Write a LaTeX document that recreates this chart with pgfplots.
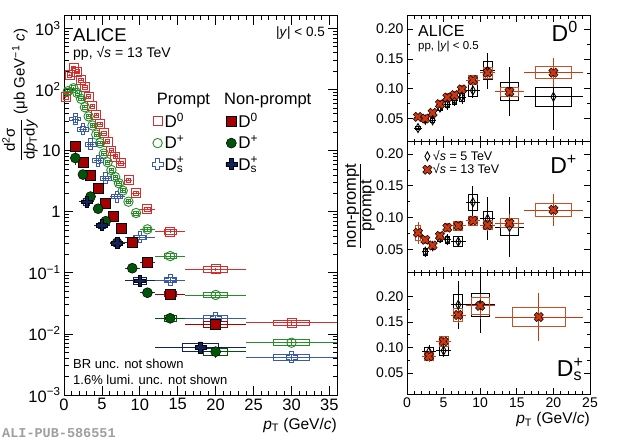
\documentclass[border=0pt]{standalone}
\usepackage{fontspec}
\setmainfont{Liberation Sans}
\setmonofont{Liberation Mono}
\usepackage{pgfplots}
\usepackage{pgfplotstable}
\pgfplotsset{compat=1.18}

\definecolor{pDz}{RGB}{215,45,45}
\definecolor{pDp}{RGB}{40,140,40}
\definecolor{pDs}{RGB}{60,90,170}
\definecolor{nDz}{RGB}{165,0,0}
\definecolor{nDp}{RGB}{0,85,10}
\definecolor{nDs}{RGB}{15,35,95}
\definecolor{tth}{RGB}{205,55,15}
\definecolor{tthb}{RGB}{200,80,40}

\newcommand{\Dz}{D\textsuperscript{0}}
\newcommand{\Dp}{D\textsuperscript{+}}
\newcommand{\Ds}{D\rlap{\textsuperscript{+}}\textsubscript{s}}
\newcommand{\pT}{\textit{p}\textsubscript{T}}
\newcommand{\sqs}{√\textit{s}}

\newcommand{\crosspath}[1]{%
 \pgfpathmoveto{\pgfpoint{-#1\pgfplotmarksize}{\pgfplotmarksize}}%
 \pgfpathlineto{\pgfpoint{#1\pgfplotmarksize}{\pgfplotmarksize}}%
 \pgfpathlineto{\pgfpoint{#1\pgfplotmarksize}{#1\pgfplotmarksize}}%
 \pgfpathlineto{\pgfpoint{\pgfplotmarksize}{#1\pgfplotmarksize}}%
 \pgfpathlineto{\pgfpoint{\pgfplotmarksize}{-#1\pgfplotmarksize}}%
 \pgfpathlineto{\pgfpoint{#1\pgfplotmarksize}{-#1\pgfplotmarksize}}%
 \pgfpathlineto{\pgfpoint{#1\pgfplotmarksize}{-\pgfplotmarksize}}%
 \pgfpathlineto{\pgfpoint{-#1\pgfplotmarksize}{-\pgfplotmarksize}}%
 \pgfpathlineto{\pgfpoint{-#1\pgfplotmarksize}{-#1\pgfplotmarksize}}%
 \pgfpathlineto{\pgfpoint{-\pgfplotmarksize}{-#1\pgfplotmarksize}}%
 \pgfpathlineto{\pgfpoint{-\pgfplotmarksize}{#1\pgfplotmarksize}}%
 \pgfpathlineto{\pgfpoint{-#1\pgfplotmarksize}{#1\pgfplotmarksize}}%
 \pgfpathclose}
\pgfdeclareplotmark{ocross}{\crosspath{0.33}\pgfusepathqstroke}
\pgfdeclareplotmark{fcross}{\crosspath{0.33}\pgfusepathqfillstroke}
\pgfdeclareplotmark{fx}{\pgftransformrotate{45}\crosspath{0.36}\pgfusepathqfillstroke}
\pgfdeclareplotmark{odiam}{%
 \pgfpathmoveto{\pgfpoint{0pt}{\pgfplotmarksize}}%
 \pgfpathlineto{\pgfpoint{0.55\pgfplotmarksize}{0pt}}%
 \pgfpathlineto{\pgfpoint{0pt}{-\pgfplotmarksize}}%
 \pgfpathlineto{\pgfpoint{-0.55\pgfplotmarksize}{0pt}}%
 \pgfpathclose\pgfusepathqstroke}
\pgfdeclareplotmark{nothing}{}

\pgfplotsset{
  rootax/.style={scale only axis, anchor=south west,
    axis line style={line width=1pt},
    tick style={black, line width=0.8pt}, tick align=inside,
    /pgf/number format/assume math mode=true},
  logbox/.style n args={3}{forget plot, scatter, only marks, mark=nothing,
    visualization depends on={\thisrow{bw} \as \bw},
    visualization depends on={\thisrow{sy} \as \sy},
    scatter/@pre marker code/.code={%
      \pgfmathsetmacro\hw{max(#2*\bw,2.2)}%
      \pgfmathsetmacro\hh{max(#3*log10(1+\sy),1.2)}%
      \draw[#1, line width=0.8pt] (-\hw pt,-\hh pt) rectangle (\hw pt,\hh pt);},
    scatter/@post marker code/.code={}},
  linbox/.style n args={3}{forget plot, scatter, only marks, mark=nothing,
    visualization depends on={\thisrow{bw} \as \bw},
    visualization depends on={\thisrow{sy} \as \sy},
    scatter/@pre marker code/.code={%
      \pgfmathsetmacro\hw{max(#2*\bw,2.2)}%
      \pgfmathsetmacro\hh{max(#3*\sy,1.2)}%
      \draw[#1, line width=0.8pt] (-\hw pt,-\hh pt) rectangle (\hw pt,\hh pt);},
    scatter/@post marker code/.code={}},
  errs/.style={forget plot, only marks,
    error bars/x dir=both, error bars/x explicit,
    error bars/y dir=both, error bars/y explicit,
    error bars/error mark=none,
    error bars/error bar style={line width=0.8pt}},
}

% ---------- left panel: cross sections ----------
\pgfplotstableread{
x y ex ey bw sy
0.25 76 0.25 4 0.1 0.12
0.75 173 0.25 6 0.1 0.10
1.25 222 0.25 7 0.1 0.09
1.75 196 0.25 6 0.1 0.08
2.25 143 0.25 4 0.1 0.08
2.75 109 0.25 3 0.1 0.08
3.25 76 0.25 2 0.1 0.08
3.75 53.7 0.25 1.5 0.1 0.08
4.25 38.3 0.25 1.1 0.1 0.08
4.75 27.2 0.25 0.8 0.1 0.08
5.25 19.2 0.25 0.6 0.1 0.08
5.75 14.0 0.25 0.45 0.1 0.08
6.25 9.96 0.25 0.35 0.1 0.08
6.75 7.94 0.25 0.3 0.1 0.08
7.5 6.2 0.5 0.2 0.2 0.08
8.5 3.30 0.5 0.12 0.2 0.08
9.5 2.0 0.5 0.08 0.2 0.08
11 1.11 1 0.05 0.4 0.08
14 0.47 2 0.025 0.8 0.09
20 0.114 4 0.008 1.6 0.12
30 0.0152 6 0.0015 2.4 0.11
}\pDzT
\pgfplotstableread{
x y ex ey bw sy
0.5 94 0.5 6 0.2 0.12
1.25 105 0.25 5 0.1 0.10
1.75 88 0.25 4 0.1 0.09
2.25 70.5 0.25 3 0.1 0.08
2.75 51.3 0.25 2 0.1 0.08
3.25 36.4 0.25 1.4 0.1 0.08
3.75 25.8 0.25 1.0 0.1 0.08
4.25 18.3 0.25 0.7 0.1 0.08
4.75 13.3 0.25 0.5 0.1 0.08
5.25 8.97 0.25 0.35 0.1 0.08
5.75 6.46 0.25 0.26 0.1 0.08
6.25 4.81 0.25 0.2 0.1 0.08
6.75 3.70 0.25 0.15 0.1 0.08
7.25 2.92 0.25 0.12 0.1 0.08
7.75 2.22 0.25 0.1 0.1 0.08
8.5 1.46 0.5 0.07 0.2 0.08
9.5 0.953 0.5 0.05 0.2 0.08
11 0.515 1 0.03 0.4 0.08
14 0.188 2 0.012 0.8 0.09
20 0.0434 4 0.004 1.6 0.10
30 0.00718 6 0.0009 2.4 0.12
}\pDpT
\pgfplotstableread{
x y ex ey bw sy
1.5 32.9 0.5 3 0.2 0.12
2.5 22.4 0.5 1.5 0.2 0.10
3.5 12.7 0.5 0.8 0.2 0.09
4.5 6.84 0.5 0.4 0.2 0.09
5.5 3.52 0.5 0.22 0.2 0.09
7 1.77 1 0.09 0.4 0.09
10 0.381 2 0.02 0.8 0.09
14 0.0762 2 0.005 0.8 0.10
20 0.0180 4 0.0015 1.6 0.11
30 0.00414 6 0.0006 2.4 0.13
}\pDsT
\pgfplotstableread{
x y ex ey bw sy
1.5 11.9 0.5 1.8 0.2 0.12
2.5 6.46 0.5 0.7 0.2 0.10
3.5 3.99 0.5 0.4 0.2 0.10
4.5 2.44 0.5 0.22 0.2 0.10
5.5 1.40 0.5 0.13 0.2 0.10
6.5 0.843 0.5 0.08 0.2 0.10
7.5 0.534 0.5 0.05 0.2 0.10
9 0.319 1 0.03 0.4 0.10
11 0.149 1 0.015 0.4 0.10
14 0.045 2 0.005 0.8 0.11
20 0.0145 4 0.002 1.6 0.12
}\nDzT
\pgfplotstableread{
x y ex ey bw sy
1.5 7.57 0.5 1.8 0.2 0.15
2.5 4.06 0.5 0.6 0.2 0.12
3.5 1.77 0.5 0.25 0.2 0.12
4.5 1.12 0.5 0.15 0.2 0.12
5.5 0.70 0.5 0.09 0.2 0.12
7 0.311 1 0.035 0.4 0.12
9 0.119 1 0.015 0.4 0.12
11 0.0472 1 0.007 0.4 0.12
14 0.018 2 0.003 0.8 0.12
20 0.00512 4 0.0011 1.6 0.14
}\nDpT
\pgfplotstableread{
x y ex ey bw sy
3 1.46 1 0.25 0.4 0.14
5 0.605 1 0.09 0.4 0.12
7 0.308 1 0.05 0.4 0.12
10 0.0743 2 0.012 0.8 0.13
18 0.00604 6 0.0012 2.4 0.15
}\nDsT

% ---------- right panels: ratios ----------
\pgfplotstableread{
x y ex ey bw sy
1.5 0.0527 0.5 0.004 0.3 0.004
2.5 0.0500 0.5 0.003 0.3 0.004
3.5 0.0594 0.5 0.004 0.3 0.005
4.5 0.0741 0.5 0.005 0.3 0.006
5.5 0.0854 0.5 0.006 0.3 0.006
6.5 0.0893 0.5 0.007 0.3 0.007
7.5 0.0989 0.5 0.008 0.3 0.007
9 0.1146 1 0.008 0.6 0.008
11 0.1269 1 0.012 0.6 0.009
14 0.0948 2 0.010 1.2 0.007
20 0.1269 4 0.025 2.4 0.010
}\rDzA
\pgfplotstableread{
x y ex ey bw sy
1.5 0.034 0.5 0.004 0.3 0.003
2.5 0.048 0.5 0.004 0.3 0.004
3.5 0.047 0.5 0.005 0.3 0.004
4.5 0.0685 0.5 0.007 0.3 0.005
5.5 0.074 0.5 0.009 0.3 0.006
6.5 0.0808 0.5 0.010 0.3 0.007
7.5 0.086 0.5 0.012 0.3 0.008
9 0.097 1 0.012 0.6 0.010
11 0.130 1 0.030 0.6 0.015
14 0.096 2 0.041 1.2 0.015
20 0.0864 4 0.056 2.4 0.016
}\rDzB
\pgfplotstableread{
x y ex ey bw sy
1.5 0.076 0.5 0.017 0.3 0.012
2.5 0.065 0.5 0.005 0.3 0.006
3.5 0.056 0.5 0.004 0.3 0.005
4.5 0.071 0.5 0.005 0.3 0.006
5.5 0.084 0.5 0.006 0.3 0.006
7 0.087 1 0.006 0.6 0.007
9 0.095 1 0.008 0.6 0.007
11 0.088 1 0.010 0.6 0.007
14 0.091 2 0.015 1.2 0.007
20 0.112 4 0.025 2.4 0.011
}\rDpA
\pgfplotstableread{
x y ex ey bw sy
2.5 0.046 0.5 0.008 0.3 0.005
3.5 0.055 0.5 0.007 0.3 0.005
4.5 0.068 0.5 0.008 0.3 0.006
5.5 0.065 0.5 0.009 0.3 0.006
7 0.062 1 0.005 0.6 0.008
9 0.124 1 0.025 0.6 0.012
11 0.098 1 0.034 0.6 0.011
14 0.085 2 0.047 1.2 0.013
}\rDpB
\pgfplotstableread{
x y ex ey bw sy
3 0.083 1 0.012 0.6 0.008
5 0.112 1 0.010 0.6 0.010
7 0.164 1 0.016 0.6 0.013
10 0.182 2 0.025 1.2 0.016
18 0.160 6 0.048 3.6 0.018
}\rDsA
\pgfplotstableread{
x y ex ey bw sy
3 0.092 1 0.013 0.6 0.008
5 0.094 1 0.013 0.6 0.009
7 0.184 1 0.047 0.6 0.020
10 0.184 2 0.055 1.2 0.022
}\rDsB

\begin{document}
\begin{tikzpicture}[x=1pt,y=1pt]
\path[use as bounding box] (0,0) rectangle (620,441);

% ================= LEFT =================
\begin{axis}[rootax, at={(64pt,46pt)}, width=273pt, height=379pt,
  xmin=0, xmax=36, ymode=log, ymin=1e-3, ymax=1600,
  xtick={0,5,...,35}, minor x tick num=4,
  ytick={1e-3,1e-2,1e-1,1,10,100,1000},
  yticklabels={10\textsuperscript{−3},10\textsuperscript{−2},10\textsuperscript{−1},1,10,10\textsuperscript{2},10\textsuperscript{3}},
  major tick length=9pt, minor tick length=4.5pt,
  tick label style={font=\fontsize{16.5}{18}\selectfont},
  legend columns=2, legend cell align=left,
  legend image code/.code={\draw[#1] plot coordinates {(4pt,0pt)};},
  legend style={at={(0.322,0.748)}, anchor=north west, draw=none, fill=none,
     font=\fontsize{17}{19}\selectfont, row sep=3.5pt, inner sep=0pt, nodes={inner sep=1.5pt},
     /tikz/every even column/.append style={column sep=40pt}},
]
\addplot[logbox={pDz}{7.583}{61.09}] table[x=x,y=y] {\pDzT};
\addplot[logbox={pDp}{7.583}{61.09}] table[x=x,y=y] {\pDpT};
\addplot[logbox={pDs}{7.583}{61.09}] table[x=x,y=y] {\pDsT};
\addplot[logbox={nDz}{7.583}{61.09}] table[x=x,y=y] {\nDzT};
\addplot[logbox={nDp}{7.583}{61.09}] table[x=x,y=y] {\nDpT};
\addplot[logbox={nDs}{7.583}{61.09}] table[x=x,y=y] {\nDsT};

\addplot[errs, pDz, mark=square, mark size=4.5pt, line width=0.9pt] table[x=x,y=y,x error=ex,y error=ey] {\pDzT};
\addplot[errs, pDp, mark=o, mark size=4.7pt, line width=0.9pt] table[x=x,y=y,x error=ex,y error=ey] {\pDpT};
\addplot[errs, pDs, mark=ocross, mark size=5.5pt, line width=0.9pt] table[x=x,y=y,x error=ex,y error=ey] {\pDsT};
\addplot[errs, nDz, mark=square*, mark size=5pt, line width=0.9pt, mark options={draw=black, fill=nDz, line width=0.5pt}] table[x=x,y=y,x error=ex,y error=ey] {\nDzT};
\addplot[errs, nDp, mark=*, mark size=5pt, line width=0.9pt, mark options={draw=black, fill=nDp, line width=0.5pt}] table[x=x,y=y,x error=ex,y error=ey] {\nDpT};
\addplot[errs, nDs, mark=fcross, mark size=5.5pt, line width=0.9pt, mark options={draw=black, fill=nDs, line width=0.5pt}] table[x=x,y=y,x error=ex,y error=ey] {\nDsT};

\addlegendimage{pDz, mark=square, mark size=4.5pt, line width=0.9pt}
\addlegendentry{\Dz}
\addlegendimage{nDz, mark=square*, mark size=5pt, mark options={draw=black, fill=nDz, line width=0.5pt}}
\addlegendentry{\Dz}
\addlegendimage{pDp, mark=o, mark size=4.7pt, line width=0.9pt}
\addlegendentry{\Dp}
\addlegendimage{nDp, mark=*, mark size=5pt, mark options={draw=black, fill=nDp, line width=0.5pt}}
\addlegendentry{\Dp}
\addlegendimage{pDs, mark=ocross, mark size=5.5pt, line width=0.9pt}
\addlegendentry{\Ds}
\addlegendimage{nDs, mark=fcross, mark size=5.5pt, mark options={draw=black, fill=nDs, line width=0.5pt}}
\addlegendentry{\Ds}
\end{axis}

% ================= RIGHT TOP (D0) =================
\begin{axis}[rootax, at={(407pt,299pt)}, width=183pt, height=126pt,
  xmin=0, xmax=25, ymin=0.0106, ymax=0.222,
  xtick={0,5,...,25}, minor x tick num=4, xticklabels={},
  ytick={0.05,0.1,0.15,0.2}, minor y tick num=1,
  yticklabel style={/pgf/number format/fixed, /pgf/number format/fixed zerofill, /pgf/number format/precision=2},
  tick label style={font=\fontsize{14}{16}\selectfont},
  major tick length=6pt, minor tick length=3pt]
\addplot[linbox={black}{7.32}{596.0}] table[x=x,y=y] {\rDzB};
\addplot[linbox={tthb}{7.32}{596.0}] table[x=x,y=y] {\rDzA};
\addplot[errs, black, mark=odiam, mark size=4.5pt, line width=0.9pt, mark options={fill=white}] table[x=x,y=y,x error=ex,y error=ey] {\rDzB};
\addplot[errs, tth, mark=fx, mark size=4.8pt, line width=0.9pt, mark options={draw=black, fill=tth, line width=0.5pt}] table[x=x,y=y,x error=ex,y error=ey] {\rDzA};
\end{axis}

% ================= RIGHT MIDDLE (D+) =================
\begin{axis}[rootax, at={(407pt,168pt)}, width=183pt, height=131pt,
  xmin=0, xmax=25, ymin=0.0126, ymax=0.219,
  xtick={0,5,...,25}, minor x tick num=4, xticklabels={},
  ytick={0.05,0.1,0.15,0.2}, minor y tick num=1,
  yticklabel style={/pgf/number format/fixed, /pgf/number format/fixed zerofill, /pgf/number format/precision=2},
  tick label style={font=\fontsize{14}{16}\selectfont},
  major tick length=6pt, minor tick length=3pt,
  legend cell align=left,
  legend image code/.code={\draw[#1] plot coordinates {(4pt,0pt)};},
  legend style={at={(0.085,0.943)}, anchor=north west, draw=none, fill=none,
     font=\fontsize{12.5}{14}\selectfont, row sep=0pt, inner sep=0pt, nodes={inner sep=1pt}}]
\addplot[linbox={black}{7.32}{634.7}] table[x=x,y=y] {\rDpB};
\addplot[linbox={tthb}{7.32}{634.7}] table[x=x,y=y] {\rDpA};
\addplot[errs, black, mark=odiam, mark size=4.5pt, line width=0.9pt, mark options={fill=white}] table[x=x,y=y,x error=ex,y error=ey] {\rDpB};
\addplot[errs, tth, mark=fx, mark size=4.8pt, line width=0.9pt, mark options={draw=black, fill=tth, line width=0.5pt}] table[x=x,y=y,x error=ex,y error=ey] {\rDpA};
\addlegendimage{black, mark=odiam, mark size=4.5pt, line width=0.9pt}
\addlegendentry{\sqs{} = 5 TeV}
\addlegendimage{tth, mark=fx, mark size=4.8pt, mark options={draw=black, fill=tth, line width=0.5pt}}
\addlegendentry{\sqs{} = 13 TeV}
\end{axis}

% ================= RIGHT BOTTOM (Ds) =================
\begin{axis}[rootax, at={(407pt,47pt)}, width=183pt, height=121pt,
  xmin=0, xmax=25, ymin=0.0088, ymax=0.2465,
  xtick={0,5,...,25}, minor x tick num=4,
  ytick={0.05,0.1,0.15,0.2}, minor y tick num=1,
  yticklabel style={/pgf/number format/fixed, /pgf/number format/fixed zerofill, /pgf/number format/precision=2},
  tick label style={font=\fontsize{14}{16}\selectfont},
  major tick length=6pt, minor tick length=3pt]
\addplot[linbox={black}{7.32}{509.0}] table[x=x,y=y] {\rDsB};
\addplot[linbox={tthb}{7.32}{509.0}] table[x=x,y=y] {\rDsA};
\addplot[errs, black, mark=odiam, mark size=4.5pt, line width=0.9pt, mark options={fill=white}] table[x=x,y=y,x error=ex,y error=ey] {\rDsB};
\addplot[errs, tth, mark=fx, mark size=4.8pt, line width=0.9pt, mark options={draw=black, fill=tth, line width=0.5pt}] table[x=x,y=y,x error=ex,y error=ey] {\rDsA};
\end{axis}

% ================= TEXT =================
\node[anchor=base west, font=\fontsize{18.5}{20}\selectfont, inner sep=0pt] at (73,399.3) {ALICE};
\node[anchor=base west, font=\fontsize{14}{16}\selectfont, inner sep=0pt] at (73,383.7) {pp, \sqs{} = 13 TeV};
\node[anchor=base east, font=\fontsize{13.5}{15}\selectfont, inner sep=0pt] at (325,404.5) {|\textit{y}| < 0.5};
\node[anchor=base west, font=\fontsize{16.5}{18}\selectfont, inner sep=0pt] at (156.7,336) {Prompt};
\node[anchor=base west, font=\fontsize{16.5}{18}\selectfont, inner sep=0pt] at (224,336) {Non-prompt};
\node[anchor=base west, font=\fontsize{13}{15}\selectfont, inner sep=0pt] at (73,72.7) {BR unc. not shown};
\node[anchor=base west, font=\fontsize{13}{15}\selectfont, inner sep=0pt] at (73,56) {1.6\% lumi. unc. not shown};
\node[anchor=base east, font=\fontsize{15.5}{17}\selectfont, inner sep=0pt] at (337,12) {\pT{} (GeV/\textit{c})};
\node[anchor=west, font=\ttfamily\bfseries\fontsize{13.5}{15}\selectfont, text=gray!75, inner sep=0pt] at (2,8) {ALI-PUB-586551};
\node[rotate=90, font=\fontsize{15}{17}\selectfont, inner sep=0pt] at (20,346)
  {$\displaystyle\frac{\mbox{d\textsuperscript{2}σ}}{\mbox{d\textit{p}\textsubscript{T}d\textit{y}}}$ (μb GeV\textsuperscript{−1} \textit{c})};

\node[anchor=base west, font=\fontsize{16}{18}\selectfont, inner sep=0pt] at (418,404.3) {ALICE};
\node[anchor=base west, font=\fontsize{11.5}{13}\selectfont, inner sep=0pt] at (418,391.7) {pp, |\textit{y}| < 0.5};
\node[anchor=base east, font=\fontsize{23}{25}\selectfont, inner sep=0pt] at (578,399.3) {\Dz};
\node[anchor=base east, font=\fontsize{23}{25}\selectfont, inner sep=0pt] at (577,267.7) {\Dp};
\node[anchor=base west, font=\fontsize{23}{25}\selectfont, inner sep=0pt] at (556.7,64.3) {\Ds};
\node[anchor=base east, font=\fontsize{15.5}{17}\selectfont, inner sep=0pt] at (590,17) {\pT{} (GeV/\textit{c})};
\node[rotate=90, font=\fontsize{16.5}{18}\selectfont, inner sep=0pt] at (360,235)
  {$\textstyle\frac{\mbox{non-prompt}}{\mbox{prompt}}$};
\end{tikzpicture}
\end{document}
